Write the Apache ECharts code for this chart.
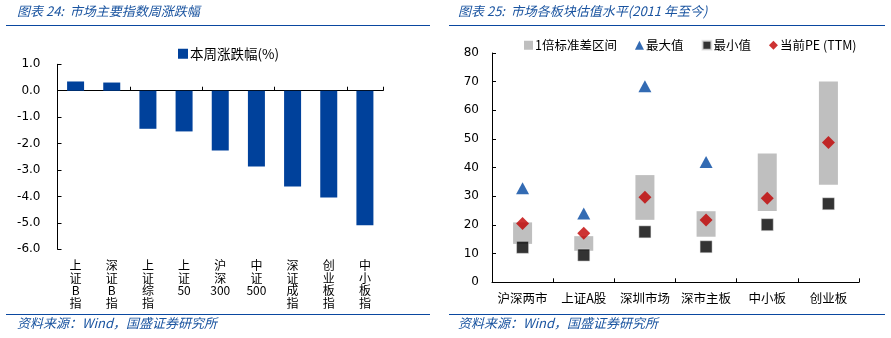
<!DOCTYPE html>
<html><head><meta charset="utf-8">
<script src="https://cdn.jsdelivr.net/npm/echarts@6/dist/echarts.min.js"></script>
<style>html,body{margin:0;padding:0;background:#fff}#c{width:891px;height:338px}</style>
</head><body><div id="c"></div>
<script>
// Left chart data
const idxCategories = ['上证B指','深证B指','上证综指','上证50','沪深300','中证500','深证成指','创业板指','中小板指'];
const weeklyChange = [0.35, 0.31, -1.44, -1.54, -2.26, -2.87, -3.62, -4.04, -5.09];
const leftTicks = [-6, -5, -4, -3, -2, -1, 0, 1];

// Right chart data
const boardCategories = ['沪深两市','上证A股','深圳市场','深市主板','中小板','创业板'];
const sdLow  = [13.4, 11.0, 21.8, 15.9, 24.9, 34.0];
const sdHigh = [20.9, 16.1, 37.4, 24.8, 44.9, 70.1];
const maxPE  = [32.8, 24.0, 68.4, 42.0, null, null];
const minPE  = [12.2, 9.5, 17.6, 12.4, 20.1, 27.4];
const curPE  = [20.5, 17.1, 29.7, 21.7, 29.3, 48.8];
const rightTicks = [0, 10, 20, 30, 40, 50, 60, 70, 80];

const sdSpan = sdHigh.map((h, i) => +(h - sdLow[i]).toFixed(2));

const chart = echarts.init(document.getElementById('c'), null, {renderer: 'canvas'});
const numFont = 'DejaVu Sans';
const cjk = '"Noto Sans CJK SC", sans-serif';
const blueTitle = '#1a54a0';

// stack CJK characters vertically, keep runs of digits together
function verticalLabel(v) {
  return (v.match(/[0-9]+|./g) || []).join('\n');
}

chart.setOption({
  animation: false,
  backgroundColor: '#fff',
  grid: [
    {left: 57.5, right: 508, top: 64.3, bottom: 88.7},
    {left: 492, right: 32, top: 53, bottom: 55.7}
  ],
  legend: [
    {
      data: [{name: '本周涨跌幅(%)', icon: 'rect'}],
      left: 173, top: 42, itemWidth: 10, itemHeight: 10, itemGap: 3,
      textStyle: {fontFamily: cjk, fontSize: 13.5, color: '#000', padding: [0,0,0,-3]}
    },
    {
      data: [
        {name: '1倍标准差区间', icon: 'rect'},
        {name: '最大值', icon: 'triangle'},
        {name: '最小值', icon: 'rect'},
        {name: '当前PE (TTM)', icon: 'diamond'}
      ],
      left: 519, top: 34, itemWidth: 9, itemHeight: 9, itemGap: 18,
      textStyle: {fontFamily: cjk, fontSize: 12.5, color: '#000', padding: [0,0,0,-3]}
    }
  ],
  xAxis: [
    { // left: labels at bottom
      gridIndex: 0, type: 'category', data: idxCategories, position: 'bottom',
      axisLine: {show: false, onZero: false}, axisTick: {show: false},
      axisLabel: {
        interval: 0, margin: 10, fontFamily: cjk, fontSize: 12, color: '#000', lineHeight: 12.5,
        verticalAlign: 'top',
        formatter: verticalLabel
      }
    },
    { // left: axis line at zero
      gridIndex: 0, type: 'category', data: idxCategories, position: 'bottom',
      axisLine: {show: true, onZero: true, lineStyle: {color: '#000', width: 1}},
      axisTick: {show: true, inside: true, length: 4, lineStyle: {color: '#000'}},
      axisLabel: {show: false}
    },
    { // right
      gridIndex: 1, type: 'category', data: boardCategories,
      axisLine: {lineStyle: {color: '#000', width: 1}},
      axisTick: {show: true, inside: true, length: 4, lineStyle: {color: '#000'}},
      axisLabel: {interval: 0, margin: 10, fontFamily: cjk, fontSize: 12.5, color: '#000'}
    }
  ],
  yAxis: [
    {
      gridIndex: 0, type: 'value', min: leftTicks[0], max: leftTicks[leftTicks.length-1], interval: 1,
      splitLine: {show: false},
      axisLine: {show: true, onZero: false, lineStyle: {color: '#000', width: 1}},
      axisTick: {show: true, inside: true, length: 4, lineStyle: {color: '#000'}},
      axisLabel: {margin: 17, fontFamily: numFont, fontSize: 12, color: '#000', formatter: v => v.toFixed(1)}
    },
    {
      gridIndex: 1, type: 'value', min: rightTicks[0], max: rightTicks[rightTicks.length-1], interval: 10,
      splitLine: {show: false},
      axisLine: {show: true, lineStyle: {color: '#000', width: 1}},
      axisTick: {show: true, inside: true, length: 4, lineStyle: {color: '#000'}},
      axisLabel: {margin: 13, fontFamily: numFont, fontSize: 12, color: '#000'}
    }
  ],
  series: [
    {
      name: '本周涨跌幅(%)', type: 'bar', xAxisIndex: 0, yAxisIndex: 0,
      data: weeklyChange, barWidth: 17,
      itemStyle: {color: '#00419B'}
    },
    {
      name: 'base', type: 'bar', xAxisIndex: 2, yAxisIndex: 1, stack: 'sd',
      data: sdLow, barWidth: 19, itemStyle: {color: 'rgba(0,0,0,0)'}, silent: true
    },
    {
      name: '1倍标准差区间', type: 'bar', xAxisIndex: 2, yAxisIndex: 1, stack: 'sd',
      data: sdSpan, barWidth: 19, itemStyle: {color: '#BFBFBF'}
    },
    {
      name: '最大值', type: 'scatter', xAxisIndex: 2, yAxisIndex: 1,
      data: maxPE, symbol: 'triangle', symbolSize: [13, 12],
      itemStyle: {color: '#0046A0'}
    },
    {
      name: '最小值', type: 'scatter', xAxisIndex: 2, yAxisIndex: 1,
      data: minPE, symbol: 'rect', symbolSize: 12,
      itemStyle: {color: '#000', borderColor: '#e6e6e6', borderWidth: 0.6}
    },
    {
      name: '当前PE (TTM)', type: 'scatter', xAxisIndex: 2, yAxisIndex: 1,
      data: curPE, symbol: 'diamond', symbolSize: [13, 13],
      itemStyle: {color: '#C00000'}
    }
  ],
  graphic: [
    {type: 'text', left: 17, top: 5, style: {text: '图表 24:  市场主要指数周涨跌幅', font: 'italic 13px ' + cjk, fill: blueTitle}},
    {type: 'text', left: 458, top: 5, style: {text: '图表 25:  市场各板块估值水平(2011 年至今)', font: 'italic 13px ' + cjk, fill: blueTitle}},
    {type: 'line', shape: {x1: 6, y1: 25.5, x2: 430, y2: 25.5}, style: {stroke: '#0a48a0', lineWidth: 1}},
    {type: 'line', shape: {x1: 449, y1: 25.5, x2: 885, y2: 25.5}, style: {stroke: '#0a48a0', lineWidth: 1}},
    {type: 'line', shape: {x1: 6, y1: 314.5, x2: 430, y2: 314.5}, style: {stroke: '#0a48a0', lineWidth: 1}},
    {type: 'line', shape: {x1: 449, y1: 314.5, x2: 885, y2: 314.5}, style: {stroke: '#0a48a0', lineWidth: 1}},
    {type: 'text', left: 17, top: 317, style: {text: '资料来源：Wind，国盛证券研究所', font: 'italic 13px ' + cjk, fill: blueTitle}},
    {type: 'text', left: 458, top: 317, style: {text: '资料来源：Wind，国盛证券研究所', font: 'italic 13px ' + cjk, fill: blueTitle}}
  ]
});
</script>
</body></html>
